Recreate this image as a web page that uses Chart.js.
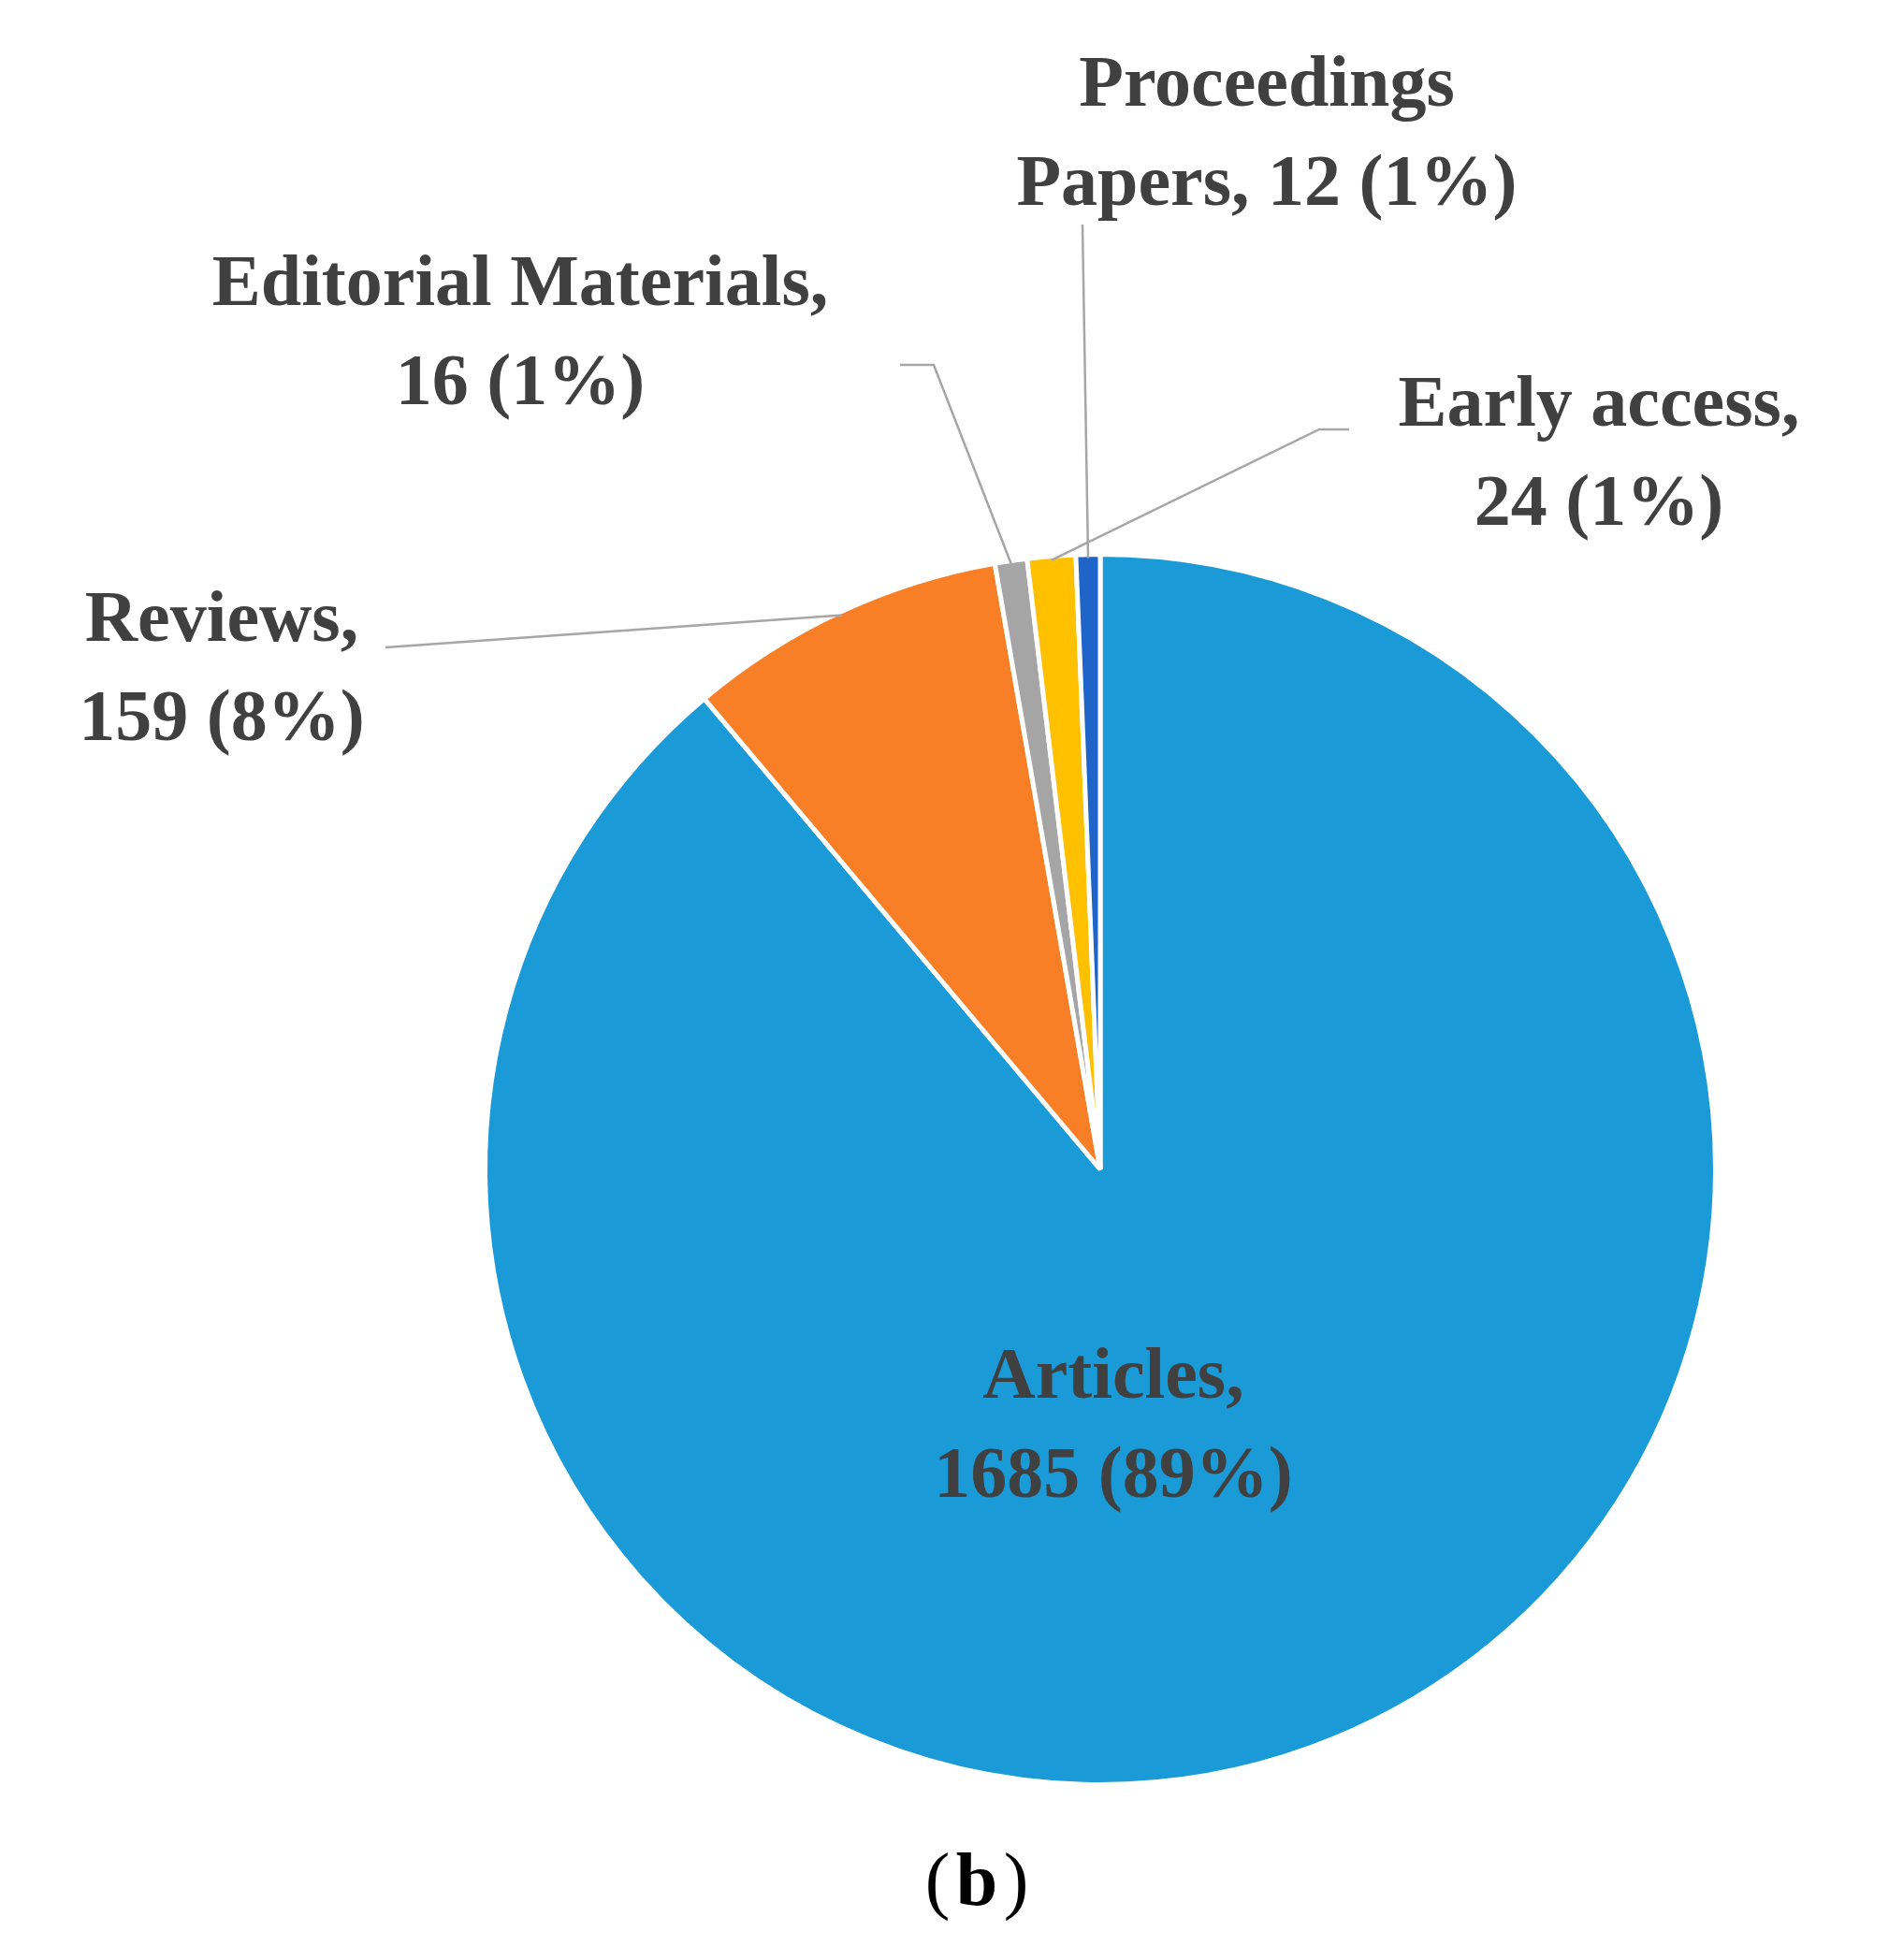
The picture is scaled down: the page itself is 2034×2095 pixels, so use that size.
<!DOCTYPE html>
<html>
<head>
<meta charset="utf-8">
<script src="https://cdn.jsdelivr.net/npm/chart.js@4/dist/chart.umd.min.js"></script>
<style>
	body { margin: 0; background: #ffffff; }
	canvas { display: block; }
</style>
</head>
<body>
<canvas id="pie" width="2034" height="2095"></canvas>
<script>
// Document types, clockwise from 12 o'clock
const categories = ["Articles", "Reviews", "Editorial Materials", "Early access", "Proceedings Papers"];
const counts = [1685, 159, 16, 24, 12];
const percents = ["89%", "8%", "1%", "1%", "1%"];
const sliceColours = ["#1a9ad6", "#f97f27", "#a5a5a5", "#ffc000", "#1f64c8"];

// Label text lines for each slice
const labelLines = [
	["Articles,", "1685 (89%)"],
	["Reviews,", "159 (8%)"],
	["Editorial Materials,", "16 (1%)"],
	["Early access,", "24 (1%)"],
	["Proceedings", "Papers, 12 (1%)"]
];

// Where each label block sits and where its leader line starts (null = no leader)
const labelSpots = [
	{ x: 1190, y: 1474, lead: null },
	{ x: 237, y: 665, lead: [[412, 692]] },
	{ x: 556, y: 306, lead: [[962, 390], [998, 390]] },
	{ x: 1709, y: 435, lead: [[1442, 459], [1410, 459]] },
	{ x: 1354, y: 93, lead: [[1157, 240]] }
];

// Plugin that draws the labels and leader lines
const labelPlugin = {
	id: "labelPlugin",
	afterDraw(chart) {
		const ctx = chart.ctx;
		const arcs = chart.getDatasetMeta(0).data;
		ctx.save();

		// leader lines
		ctx.strokeStyle = "#a6a6a6";
		ctx.lineWidth = 2.5;
		arcs.forEach(function(arc, i) {
			const spot = labelSpots[i];
			if (!spot.lead) return;
			const p = arc.getProps(["x", "y", "startAngle", "endAngle", "outerRadius"], true);
			const mid = (p.startAngle + p.endAngle) / 2;
			const ex = p.x + Math.cos(mid) * (p.outerRadius - 4);
			const ey = p.y + Math.sin(mid) * (p.outerRadius - 4);
			ctx.beginPath();
			ctx.moveTo(spot.lead[0][0], spot.lead[0][1]);
			for (let k = 1; k < spot.lead.length; k++) {
				ctx.lineTo(spot.lead[k][0], spot.lead[k][1]);
			}
			ctx.lineTo(ex, ey);
			ctx.stroke();
		});

		// label text
		ctx.fillStyle = "#404040";
		ctx.font = "bold 78px 'Liberation Serif', 'DejaVu Serif', serif";
		ctx.textAlign = "center";
		ctx.textBaseline = "middle";
		labelLines.forEach(function(lines, i) {
			const spot = labelSpots[i];
			lines.forEach(function(line, j) {
				ctx.fillText(line, spot.x, spot.y + j * 106);
			});
		});

		// panel letter
		ctx.fillStyle = "#000000";
		ctx.font = "80px 'Liberation Serif', serif";
		ctx.fillText("(", 1002, 2015);
		ctx.fillText(")", 1086, 2015);
		ctx.font = "bold 80px 'Liberation Serif', serif";
		ctx.fillText("b", 1044, 2015);
		ctx.restore();
	}
};

new Chart(document.getElementById("pie"), {
	type: "pie",
	data: {
		labels: categories,
		datasets: [{
			data: counts,
			backgroundColor: sliceColours,
			borderColor: "#ffffff",
			borderWidth: 5
		}]
	},
	options: {
		responsive: false,
		animation: false,
		devicePixelRatio: 1,
		layout: { padding: { left: 516, right: 198, top: 590, bottom: 185 } },
		plugins: {
			legend: { display: false },
			tooltip: { enabled: false }
		}
	},
	plugins: [labelPlugin]
});
</script>
</body>
</html>
